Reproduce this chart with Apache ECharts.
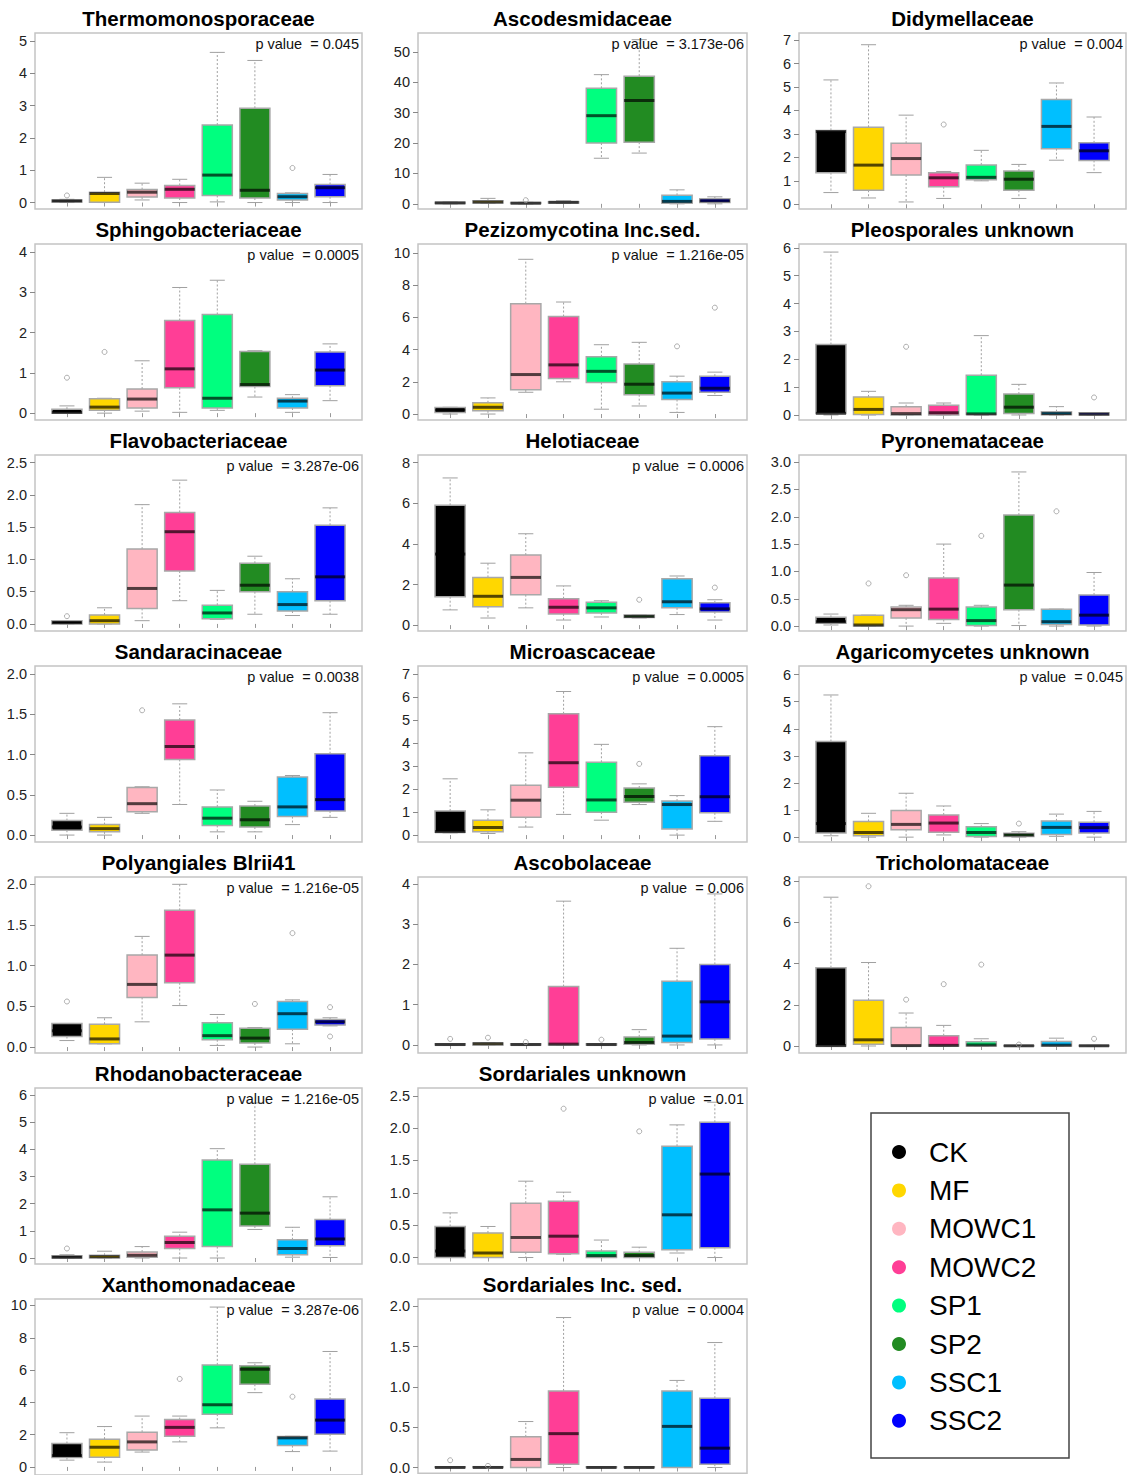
<!DOCTYPE html>
<html><head><meta charset="utf-8">
<script src="https://cdn.jsdelivr.net/npm/echarts@6/dist/echarts.min.js"></script>
<style>html,body{margin:0;padding:0;background:#fff}#chart{width:1127px;height:1475px}</style>
</head><body><div id="chart"></div>
<script>
// ---------------- DATA ----------------
const groups = ['CK', 'MF', 'MOWC1', 'MOWC2', 'SP1', 'SP2', 'SSC1', 'SSC2'];
const groupColors = ['#000000', '#FFD700', '#FFB6C1', '#FF3E96', '#00FF7F', '#228B22', '#00BFFF', '#0000FF'];

const panelTitles = ['Thermomonosporaceae', 'Ascodesmidaceae', 'Didymellaceae',
  'Sphingobacteriaceae', 'Pezizomycotina Inc.sed.', 'Pleosporales unknown',
  'Flavobacteriaceae', 'Helotiaceae', 'Pyronemataceae',
  'Sandaracinaceae', 'Microascaceae', 'Agaricomycetes unknown',
  'Polyangiales Blrii41', 'Ascobolaceae', 'Tricholomataceae',
  'Rhodanobacteraceae', 'Sordariales unknown',
  'Xanthomonadaceae', 'Sordariales Inc. sed.'];

const pValues = ['0.045', '3.173e-06', '0.004',
  '0.0005', '1.216e-05', '',
  '3.287e-06', '0.0006', '',
  '0.0038', '0.0005', '0.045',
  '1.216e-05', '0.006', '',
  '1.216e-05', '0.01',
  '3.287e-06', '0.0004'];

const yTicks = [[0,1,2,3,4,5], [0,10,20,30,40,50], [0,1,2,3,4,5,6,7],
  [0,1,2,3,4], [0,2,4,6,8,10], [0,1,2,3,4,5,6],
  [0,0.5,1,1.5,2,2.5], [0,2,4,6,8], [0,0.5,1,1.5,2,2.5,3],
  [0,0.5,1,1.5,2], [0,1,2,3,4,5,6,7], [0,1,2,3,4,5,6],
  [0,0.5,1,1.5,2], [0,1,2,3,4], [0,2,4,6,8],
  [0,1,2,3,4,5,6], [0,0.5,1,1.5,2,2.5],
  [0,2,4,6,8,10], [0,0.5,1,1.5,2]];

const yRanges = [[-0.2,5.25], [-1.7,56.2], [-0.2,7.3],
  [-0.17,4.2], [-0.37,10.55], [-0.18,6.14],
  [-0.11,2.62], [-0.29,8.38], [-0.09,3.13],
  [-0.086,2.1], [-0.3,7.36], [-0.18,6.32],
  [-0.073,2.09], [-0.2,4.17], [-0.34,8.2],
  [-0.22,6.25], [-0.1,2.62],
  [-0.5,10.4], [-0.07,2.09]];

// box stats per group: [min, Q1, median, Q3, max]; outliers: [group number, value]
const thermomonosporaceae = [[0,0.02,0.05,0.08,0.1],[0,0.01,0.28,0.32,0.78],[0.08,0.17,0.32,0.4,0.6],[0,0.14,0.41,0.53,0.72],[0.02,0.22,0.85,2.4,4.65],[0,0.14,0.38,2.92,4.4],[0,0.08,0.18,0.28,0.3],[0,0.18,0.46,0.56,0.87]];
const thermomonosporaceaeOut = [[1,0.22],[7,1.07]];
const ascodesmidaceae = [[0,0.1,0.3,0.5,0.6],[0.1,0.3,0.6,1.0,1.8],[0,0.1,0.2,0.4,0.5],[0.1,0.3,0.5,0.7,1.0],[15,20,29,38,42.5],[16.7,20.3,34,42,54],[0,0.2,0.8,2.8,4.6],[0,0.4,1.0,1.7,2.3]];
const ascodesmidaceaeOut = [[3,1.2]];
const didymellaceae = [[0.5,1.35,3.1,3.15,5.3],[0.27,0.6,1.67,3.28,6.8],[0.1,1.25,1.95,2.6,3.8],[0.25,0.75,1.13,1.35,1.4],[1.0,1.05,1.15,1.68,2.3],[0.25,0.6,1.07,1.42,1.7],[1.88,2.37,3.32,4.47,5.17],[1.35,1.87,2.28,2.62,3.72]];
const didymellaceaeOut = [[4,3.4]];
const sphingobacteriaceae = [[0,0,0.02,0.1,0.18],[0,0.07,0.15,0.36,0.37],[0.05,0.13,0.35,0.6,1.3],[0.02,0.63,1.1,2.3,3.12],[0.07,0.13,0.37,2.45,3.3],[0.4,0.66,0.71,1.53,1.55],[0.02,0.13,0.3,0.37,0.46],[0.31,0.68,1.07,1.52,1.72]];
const sphingobacteriaceaeOut = [[1,0.88],[2,1.52]];
const pezizomycotina = [[0,0.1,0.25,0.4,0.42],[0,0.2,0.42,0.7,1.0],[1.35,1.5,2.45,6.85,9.6],[2.0,2.2,3.05,6.05,6.95],[0.3,1.95,2.65,3.55,4.3],[0.5,1.2,1.85,3.1,4.45],[0.1,0.9,1.3,2.0,2.35],[1.15,1.35,1.6,2.35,2.6]];
const pezizomycotinaOut = [[7,4.2],[8,6.6]];
const pleosporales = [[0,0.05,0.06,2.53,5.85],[0,0.02,0.2,0.65,0.85],[0,0,0.05,0.3,0.43],[0,0,0.08,0.35,0.43],[0,0.02,0.04,1.43,2.85],[0,0.05,0.28,0.75,1.1],[0,0.01,0.05,0.12,0.3],[0,0,0.03,0.08,0.08]];
const pleosporalesOut = [[3,2.45],[8,0.63]];
const flavobacteriaceae = [[0,0,0.02,0.05,0.05],[0,0,0.05,0.14,0.25],[0.05,0.24,0.55,1.16,1.85],[0.36,0.82,1.43,1.73,2.23],[0.07,0.08,0.17,0.29,0.52],[0.15,0.5,0.6,0.94,1.05],[0.13,0.2,0.3,0.5,0.7],[0.15,0.36,0.73,1.53,1.8]];
const flavobacteriaceaeOut = [[1,0.12]];
const helotiaceae = [[0.75,1.4,3.5,5.9,7.25],[0.35,0.9,1.42,2.35,3.05],[0.85,1.5,2.35,3.45,4.5],[0.25,0.55,0.88,1.3,1.93],[0.4,0.6,0.85,1.13,1.2],[0.35,0.38,0.43,0.5,0.5],[0.52,0.85,1.15,2.28,2.42],[0.25,0.65,0.8,1.1,1.25]];
const helotiaceaeOut = [[6,1.25],[8,1.85]];
const pyronemataceae = [[0.02,0.05,0.08,0.16,0.22],[0,0,0.02,0.2,0.2],[0,0.15,0.3,0.35,0.38],[0.05,0.12,0.31,0.88,1.5],[0,0.01,0.1,0.35,0.38],[0.01,0.3,0.75,2.03,2.82],[0,0.03,0.08,0.31,0.31],[0,0.02,0.2,0.57,0.98]];
const pyronemataceaeOut = [[2,0.78],[3,0.93],[5,1.65],[7,2.1]];
const sandaracinaceae = [[0,0.06,0.1,0.18,0.27],[0,0.04,0.08,0.13,0.22],[0.27,0.29,0.39,0.59,0.6],[0.38,0.94,1.1,1.43,1.63],[0.04,0.12,0.21,0.35,0.56],[0.04,0.1,0.19,0.36,0.42],[0.13,0.23,0.35,0.72,0.74],[0.22,0.3,0.44,1.01,1.52]];
const sandaracinaceaeOut = [[3,1.55]];
const microascaceae = [[0.1,0.12,0.15,1.05,2.45],[0.07,0.15,0.33,0.65,1.1],[0.35,0.78,1.52,2.17,3.58],[0.9,2.08,3.15,5.28,6.25],[0.65,1.0,1.53,3.17,3.95],[1.33,1.43,1.68,2.05,2.23],[0,0.27,1.33,1.48,1.72],[0.6,0.97,1.67,3.45,4.72]];
const microascaceaeOut = [[6,3.1]];
const agaricomycetes = [[0.05,0.15,0.5,3.53,5.25],[0,0.05,0.17,0.58,0.88],[0,0.27,0.47,0.98,1.62],[0.08,0.18,0.52,0.82,1.15],[0,0.02,0.17,0.38,0.5],[0,0.02,0.08,0.14,0.2],[0.03,0.1,0.36,0.6,0.85],[0,0.15,0.35,0.55,0.95]];
const agaricomycetesOut = [[6,0.5]];
const polyangiales = [[0.08,0.13,0.2,0.29,0.29],[0.04,0.04,0.1,0.28,0.36],[0.31,0.61,0.77,1.13,1.36],[0.51,0.79,1.13,1.68,2.0],[0.02,0.09,0.14,0.3,0.4],[0,0.05,0.11,0.23,0.24],[0.04,0.22,0.41,0.56,0.58],[0.26,0.27,0.31,0.34,0.36]];
const polyangialesOut = [[1,0.56],[6,0.53],[7,1.4],[8,0.49],[8,0.13]];
const ascobolaceae = [[0,0,0.01,0.03,0.03],[0,0,0.03,0.05,0.05],[0,0,0.01,0.03,0.03],[0,0,0.02,1.45,3.57],[0,0,0.01,0.03,0.03],[0,0.02,0.06,0.2,0.38],[0,0.06,0.22,1.58,2.4],[0,0.15,1.07,2.0,3.75]];
const ascobolaceaeOut = [[1,0.15],[2,0.18],[3,0.07],[5,0.13]];
const tricholomataceae = [[0,0,0.02,3.8,7.22],[0,0.08,0.3,2.22,4.05],[0,0,0.02,0.9,1.6],[0,0,0.03,0.5,1.0],[0,0,0.05,0.2,0.35],[0,0,0.01,0.02,0.02],[0,0,0.04,0.22,0.38],[0,0,0.01,0.03,0.03]];
const tricholomataceaeOut = [[2,7.75],[3,2.25],[4,3.0],[5,3.95],[6,0.07],[8,0.35]];
const rhodanobacteraceae = [[0,0,0.03,0.08,0.12],[0,0,0.05,0.1,0.25],[0,0.03,0.1,0.22,0.42],[0,0.35,0.57,0.8,0.95],[0,0.42,1.77,3.6,4.02],[1.05,1.18,1.65,3.45,5.7],[0.03,0.12,0.35,0.67,1.13],[0.02,0.45,0.7,1.42,2.25]];
const rhodanobacteraceaeOut = [[1,0.35]];
const sordarialesUnknown = [[0,0,0.1,0.48,0.69],[0,0,0.07,0.38,0.48],[0,0.08,0.31,0.84,1.18],[0.05,0.06,0.33,0.87,1.01],[0,0,0.03,0.1,0.27],[0,0,0.03,0.08,0.16],[0.07,0.12,0.66,1.72,2.05],[0,0.15,1.29,2.09,2.4]];
const sordarialesUnknownOut = [[4,2.3],[6,1.95]];
const xanthomonadaceae = [[0.42,0.58,0.7,1.45,2.12],[0.3,0.6,1.22,1.72,2.5],[0.92,1.05,1.55,2.15,3.15],[1.55,1.9,2.45,2.93,3.15],[2.42,3.27,3.85,6.32,9.9],[4.6,5.12,6.05,6.27,6.45],[0.95,1.32,1.8,1.88,1.9],[0.98,2.02,2.9,4.2,7.15]];
const xanthomonadaceaeOut = [[4,5.45],[7,4.35]];
const sordarialesIncSed = [[0,0,0,0.01,0.01],[0,0,0,0.01,0.01],[0,0,0.1,0.38,0.57],[0,0.04,0.42,0.95,1.86],[0,0,0,0.01,0.01],[0,0,0,0.01,0.01],[0,0,0.51,0.95,1.08],[0,0.04,0.24,0.86,1.55]];
const sordarialesIncSedOut = [[1,0.09],[2,0.02]];

const panelBoxes = [thermomonosporaceae, ascodesmidaceae, didymellaceae, sphingobacteriaceae, pezizomycotina, pleosporales,
  flavobacteriaceae, helotiaceae, pyronemataceae, sandaracinaceae, microascaceae, agaricomycetes,
  polyangiales, ascobolaceae, tricholomataceae, rhodanobacteraceae, sordarialesUnknown, xanthomonadaceae, sordarialesIncSed];
const panelOutliers = [thermomonosporaceaeOut, ascodesmidaceaeOut, didymellaceaeOut, sphingobacteriaceaeOut, pezizomycotinaOut, pleosporalesOut,
  flavobacteriaceaeOut, helotiaceaeOut, pyronemataceaeOut, sandaracinaceaeOut, microascaceaeOut, agaricomycetesOut,
  polyangialesOut, ascobolaceaeOut, tricholomataceaeOut, rhodanobacteraceaeOut, sordarialesUnknownOut, xanthomonadaceaeOut, sordarialesIncSedOut];

// ---------------- LAYOUT ----------------
const colLeft = [35, 418, 799];
const colWidth = [327, 329, 327];
const rowTop0 = 33, rowStep = 211, frameH = 176;
function panelPos(i) {
  if (i < 15) return [Math.floor(i / 3), i % 3];
  if (i < 17) return [5, i - 15];
  return [6, i - 17];
}
const FONT = '"Liberation Sans", Arial, sans-serif';

function renderBox(params, api) {
  const x = api.value(0);
  const cx = api.coord([x, 0])[0];
  const yMin = api.coord([x, api.value(1)])[1];
  const yQ1 = api.coord([x, api.value(2)])[1];
  const yMed = api.coord([x, api.value(3)])[1];
  const yQ3 = api.coord([x, api.value(4)])[1];
  const yMax = api.coord([x, api.value(5)])[1];
  const bw = api.size([0.8, 0])[0];
  const sw = bw * 0.5;
  const color = groupColors[api.value(6)];
  const whisk = { stroke: '#a0a0a0', lineWidth: 1, lineDash: [2, 2] };
  const cap = { stroke: '#a0a0a0', lineWidth: 1 };
  return { type: 'group', children: [
    { type: 'line', shape: { x1: cx, y1: yQ3, x2: cx, y2: yMax }, style: whisk },
    { type: 'line', shape: { x1: cx, y1: yQ1, x2: cx, y2: yMin }, style: whisk },
    { type: 'line', shape: { x1: cx - sw / 2, y1: yMax, x2: cx + sw / 2, y2: yMax }, style: cap },
    { type: 'line', shape: { x1: cx - sw / 2, y1: yMin, x2: cx + sw / 2, y2: yMin }, style: cap },
    { type: 'rect', shape: { x: cx - bw / 2, y: yQ3, width: bw, height: Math.max(yQ1 - yQ3, 0.5) },
      style: { fill: color, stroke: '#a8a8a8', lineWidth: 1.5 } },
    { type: 'line', shape: { x1: cx - bw / 2, y1: yMed, x2: cx + bw / 2, y2: yMed }, style: { stroke: 'rgba(0,0,0,0.68)', lineWidth: 3 } }
  ]};
}

const grids = [], xAxes = [], yAxes = [], series = [], graphics = [];
panelBoxes.forEach((boxes, i) => {
  const [r, c] = panelPos(i);
  const top = rowTop0 + r * rowStep;
  const left = colLeft[c], width = colWidth[c];
  grids.push({ left: left, top: top, width: width, height: frameH, show: true, borderColor: '#c4c4c4', borderWidth: 1.5, backgroundColor: '#fff' });
  xAxes.push({ gridIndex: i, type: 'value', min: 0.15, max: 8.85, axisLine: { show: false },
    axisTick: { show: true, customValues: [1,2,3,4,5,6,7,8], length: 4, lineStyle: { color: '#999' } },
    axisLabel: { show: false }, splitLine: { show: false } });
  const ticks = yTicks[i];
  const dec = ticks.some(t => Math.round(t) !== t) ? 1 : 0;
  yAxes.push({ gridIndex: i, type: 'value', min: yRanges[i][0], max: yRanges[i][1], axisLine: { show: false },
    axisTick: { show: true, customValues: ticks, length: 5, lineStyle: { color: '#888' } },
    axisLabel: { show: true, customValues: ticks, margin: 8, color: '#222', fontSize: 14.5, fontFamily: FONT,
      formatter: v => Number(v).toFixed(dec) },
    splitLine: { show: false } });
  series.push({ type: 'custom', xAxisIndex: i, yAxisIndex: i, renderItem: renderBox,
    encode: { x: 0, y: [1, 2, 3, 4, 5] },
    data: boxes.map((b, g) => [g + 1, b[0], b[1], b[2], b[3], b[4], g]), z: 2 });
  series.push({ type: 'scatter', xAxisIndex: i, yAxisIndex: i, symbol: 'circle', symbolSize: 5,
    itemStyle: { color: 'rgba(255,255,255,0)', borderColor: '#9a9a9a', borderWidth: 1 },
    data: panelOutliers[i], z: 3 });
  graphics.push({ type: 'text', x: left + width / 2, y: top - 15, z: 10,
    style: { text: panelTitles[i], fill: '#000', font: 'bold 20.5px ' + FONT, textAlign: 'center', textVerticalAlign: 'middle', align: 'center', verticalAlign: 'middle' } });
  if (pValues[i]) {
    graphics.push({ type: 'text', x: left + width - 3, y: top + 11, z: 10,
      style: { text: 'p value  = ' + pValues[i], fill: '#111', font: '14.5px ' + FONT, textAlign: 'right', textVerticalAlign: 'middle', align: 'right', verticalAlign: 'middle' } });
  }
});

// legend box
graphics.push({ type: 'rect', shape: { x: 871, y: 1113, width: 198, height: 345 }, z: 10,
  style: { fill: 'none', stroke: '#444', lineWidth: 1.5 } });
groups.forEach((g, k) => {
  const cy = 1152 + k * 38.4;
  graphics.push({ type: 'circle', shape: { cx: 899, cy: cy, r: 7 }, z: 10, style: { fill: groupColors[k] } });
  graphics.push({ type: 'text', x: 929, y: cy, z: 10,
    style: { text: g, fill: '#000', font: '28px ' + FONT, textAlign: 'left', textVerticalAlign: 'middle', align: 'left', verticalAlign: 'middle' } });
});

const chart = echarts.init(document.getElementById('chart'), null, { renderer: 'svg' });
chart.setOption({
  animation: false,
  backgroundColor: '#fff',
  grid: grids, xAxis: xAxes, yAxis: yAxes, series: series, graphic: graphics
});
</script></body></html>
